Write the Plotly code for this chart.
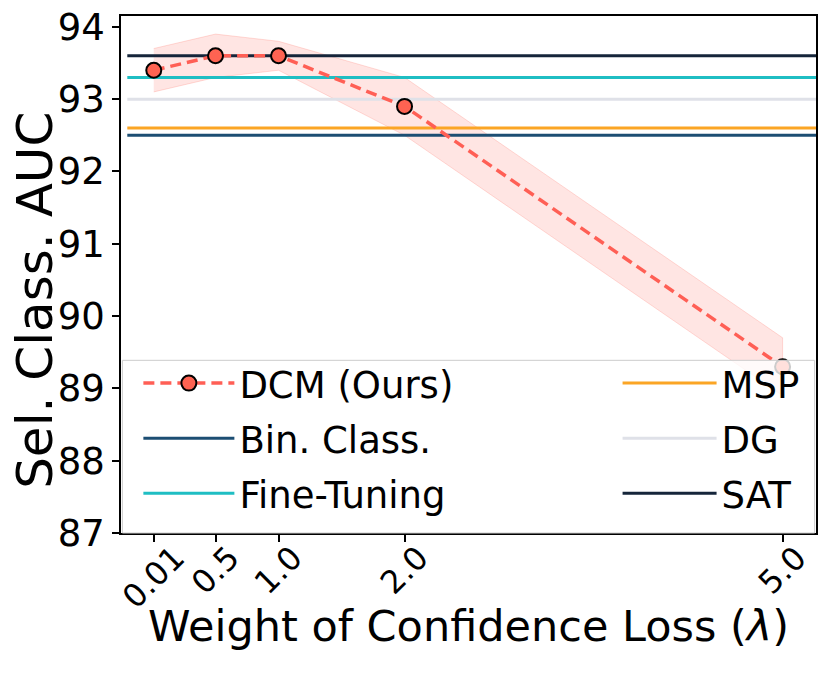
import plotly.graph_objects as go

# weight of confidence loss (lambda) vs selective classification AUC
lam = [0.01, 0.5, 1.0, 2.0, 5.0]
lam_labels = ['0.01', '0.5', '1.0', '2.0', '5.0']
dcm_auc = [93.4, 93.6, 93.6, 92.9, 89.3]
dcm_upper = [93.7, 93.9, 93.8, 93.3, 89.7]
dcm_lower = [93.1, 93.3, 93.4, 92.5, 88.9]

baseline_names = ['Bin. Class.', 'Fine-Tuning', 'MSP', 'DG', 'SAT']
baseline_auc = [92.5, 93.3, 92.6, 93.0, 93.6]
baseline_span = [-0.2, 5.3]

colors = {'Bin. Class.': '#1c4e73', 'Fine-Tuning': '#1fbec3', 'MSP': '#fba525',
          'DG': '#dfe1e8', 'SAT': '#15253a'}
legend_of = {'Bin. Class.': 'legend', 'Fine-Tuning': 'legend', 'MSP': 'legend2',
             'DG': 'legend2', 'SAT': 'legend2'}
rank_of = {'Bin. Class.': 2, 'Fine-Tuning': 3, 'MSP': 1, 'DG': 2, 'SAT': 3}

FONT = 'DejaVu Sans'
fig = go.Figure()

# std band
fig.add_trace(go.Scatter(x=lam + lam[::-1], y=dcm_upper + dcm_lower[::-1],
                         fill='toself', fillcolor='rgba(255,99,88,0.17)',
                         line=dict(color='rgba(255,99,88,0.22)', width=1),
                         mode='lines', showlegend=False, hoverinfo='skip'))

for name, val in zip(baseline_names, baseline_auc):
    fig.add_trace(go.Scatter(x=baseline_span, y=[val, val], mode='lines', name=name,
                             line=dict(color=colors[name], width=3),
                             legend=legend_of[name], legendgroup=name,
                             legendrank=rank_of[name]))

fig.add_trace(go.Scatter(x=lam, y=dcm_auc, mode='lines+markers', name='DCM (Ours)',
                         line=dict(color='#ff5f55', width=3.5, dash='11px,6px'),
                         marker=dict(size=15, color='#fe6352',
                                     line=dict(color='black', width=2)),
                         legend='legend', legendgroup='dcm', legendrank=1))

fig.add_shape(type='rect', xref='paper', yref='paper', x0=0.002, x1=0.998, y0=0.0, y1=0.334,
              fillcolor='rgba(255,255,255,0.8)', line=dict(color='#cccccc', width=1),
              layer='above')

for v, t in zip(lam, lam_labels):
    fig.add_annotation(x=v, y=0, xref='x', yref='paper', text=t, showarrow=False,
                       textangle=-45, xanchor='center', yanchor='top', yshift=-3,
                       font=dict(family=FONT, size=32, color='black'))

# y title as rotated text, sits a bit below the axes centre as in the original
fig.add_annotation(x=0, y=0.449, xref='paper', yref='paper', text='Sel. Class. AUC',
                   showarrow=False, textangle=-90, xanchor='center', yanchor='middle',
                   xshift=-86, font=dict(family=FONT, size=50, color='black'))

leg = dict(font=dict(family=FONT, size=37, color='black'), bgcolor='rgba(0,0,0,0)',
           borderwidth=0, tracegroupgap=4, yanchor='top', xanchor='left')
fig.update_layout(
    width=830, height=691,
    margin=dict(l=121, r=14, t=16, b=158, autoexpand=False),
    plot_bgcolor='white', paper_bgcolor='white',
    font=dict(family=FONT, color='black'),
    legend=dict(leg, x=0.025, y=0.349, itemwidth=91),
    legend2=dict(leg, x=0.7145, y=0.349, itemwidth=94),
    showlegend=True,
)
fig.update_xaxes(range=[-0.25, 5.265], tickvals=lam, showticklabels=False, ticks='outside',
                 ticklen=7, tickwidth=1.5, tickcolor='black', showline=True, mirror=True,
                 linecolor='black', linewidth=1.5, showgrid=False, zeroline=False,
                 automargin=False,
                 title=dict(text='Weight of Confidence Loss (<i>λ</i>)', standoff=70,
                            font=dict(family=FONT, size=43)))
fig.update_yaxes(range=[87, 94.15], tickvals=list(range(87, 95)), ticks='outside',
                 ticklen=7, tickwidth=1.5, tickcolor='black', showline=True, mirror=True,
                 linecolor='black', linewidth=1.5, showgrid=False, zeroline=False,
                 automargin=False, ticklabeloverflow='allow',
                 tickfont=dict(family=FONT, size=37))

# drop the default body margin so the figure fills the window exactly
fig.write_html('out.html', config={'displayModeBar': False},
               post_script="document.body.style.margin='0';")
